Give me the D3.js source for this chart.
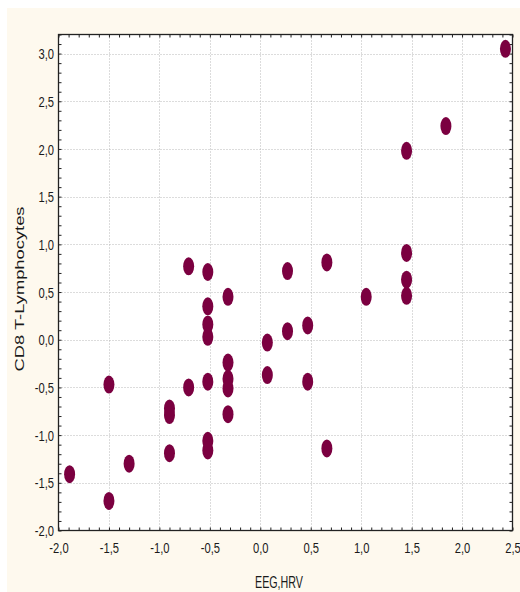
<!DOCTYPE html>
<html>
<head>
<meta charset="utf-8">
<script src="https://cdn.jsdelivr.net/npm/d3@7"></script>
<style>
  html, body { margin: 0; padding: 0; background: #ffffff; }
  svg { display: block; }
  text { font-family: Arial, "Liberation Sans", sans-serif; fill: #1a1a1a; }
</style>
</head>
<body>
<svg id="chart" width="520" height="592"></svg>
<script>
// EEG,HRV composite score (x) and CD8 T-lymphocyte score (y) per subject
const eegHrv = [
  2.43, 1.84, 1.45, 1.45, 1.45, 1.45, 1.05, 0.66, 0.27, 0.47, 0.27, 0.07,
  0.07, 0.47, 0.66, -0.71, -0.52, -0.32, -0.52, -0.52, -0.52, -0.32, -0.32, -0.32,
  -0.52, -0.71, -1.50, -0.90, -0.90, -0.32, -0.52, -0.52, -0.90, -1.30, -1.89, -1.50
];
const cd8 = [
  3.05, 2.24, 1.98, 0.91, 0.63, 0.46, 0.45, 0.81, 0.72, 0.15, 0.09, -0.03,
  -0.37, -0.44, -1.14, 0.77, 0.71, 0.45, 0.35, 0.16, 0.03, -0.24, -0.41, -0.51,
  -0.44, -0.50, -0.47, -0.72, -0.79, -0.78, -1.06, -1.16, -1.19, -1.30, -1.41, -1.69
];
const xTicks = [-2.0, -1.5, -1.0, -0.5, 0.0, 0.5, 1.0, 1.5, 2.0, 2.5];
const yTicks = [-2.0, -1.5, -1.0, -0.5, 0.0, 0.5, 1.0, 1.5, 2.0, 2.5, 3.0];
const xTitle = "EEG,HRV";
const yTitle = "CD8 T-Lymphocytes";

const svg = d3.select("#chart");
const W = 520, H = 592;
const plot = { left: 58.5, right: 512.5, top: 34.5, bottom: 530.5 };

// panel background
svg.append("rect")
  .attr("x", 7).attr("y", 8).attr("width", W - 7).attr("height", H - 8)
  .attr("fill", "#fef9ee");

const x = d3.scaleLinear().domain([-2, 2.5]).range([plot.left, plot.right]);
const y = d3.scaleLinear().domain([-2, 3.2]).range([plot.bottom, plot.top]);

// plotting area
svg.append("rect")
  .attr("x", plot.left).attr("y", plot.top)
  .attr("width", plot.right - plot.left).attr("height", plot.bottom - plot.top)
  .attr("fill", "#ffffff");

// dotted grid at major ticks
const grid = svg.append("g").attr("stroke", "#b8b8b8").attr("stroke-width", 1)
  .attr("stroke-dasharray", "1,2");
grid.selectAll("line.gx").data(xTicks.slice(1, -1)).join("line")
  .attr("x1", d => Math.round(x(d)) + 0.5).attr("x2", d => Math.round(x(d)) + 0.5)
  .attr("y1", plot.top).attr("y2", plot.bottom);
grid.selectAll("line.gy").data(yTicks.slice(1)).join("line")
  .attr("y1", d => Math.round(y(d)) + 0.5).attr("y2", d => Math.round(y(d)) + 0.5)
  .attr("x1", plot.left).attr("x2", plot.right);

// minor ticks every 0.1, pointing inward on all four sides
const minorX = d3.range(-20, 26).map(i => i / 10);
const minorY = d3.range(-20, 33).map(i => i / 10);
function styleAxis(g) {
  g.select(".domain").remove();
  g.selectAll("line").attr("stroke", "#222");
}
svg.append("g").attr("transform", `translate(0,${plot.bottom})`)
  .call(d3.axisBottom(x).tickValues(minorX).tickSize(-3).tickFormat(""))
  .call(styleAxis);
svg.append("g").attr("transform", `translate(0,${plot.top})`)
  .call(d3.axisTop(x).tickValues(minorX).tickSize(-3).tickFormat(""))
  .call(styleAxis);
svg.append("g").attr("transform", `translate(${plot.left},0)`)
  .call(d3.axisLeft(y).tickValues(minorY).tickSize(-3).tickFormat(""))
  .call(styleAxis);
svg.append("g").attr("transform", `translate(${plot.right},0)`)
  .call(d3.axisRight(y).tickValues(minorY).tickSize(-3).tickFormat(""))
  .call(styleAxis);

// frame
svg.append("rect")
  .attr("x", plot.left).attr("y", plot.top)
  .attr("width", plot.right - plot.left).attr("height", plot.bottom - plot.top)
  .attr("fill", "none").attr("stroke", "#222").attr("stroke-width", 1.3);

// tick labels with decimal comma, condensed
const fmt = d => d3.format(".1f")(d).replace(".", ",").replace("−", "-");
const squeeze = 0.8;
const xAxis = svg.append("g").attr("transform", `translate(0,${plot.bottom})`)
  .call(d3.axisBottom(x).tickValues(xTicks).tickSize(0).tickFormat(fmt));
xAxis.select(".domain").remove();
xAxis.selectAll("text")
  .attr("font-size", 14).attr("y", 23).attr("dy", null)
  .attr("transform", `scale(${squeeze},1)`);

const yAxis = svg.append("g").attr("transform", `translate(${plot.left},0)`)
  .call(d3.axisLeft(y).tickValues(yTicks).tickSize(0).tickFormat(fmt));
yAxis.select(".domain").remove();
yAxis.selectAll("text")
  .attr("font-size", 14).attr("x", -4.5 / squeeze).attr("dy", "0.36em")
  .attr("transform", `scale(${squeeze},1)`);

// axis titles
svg.append("text")
  .attr("x", 279).attr("y", 588)
  .attr("text-anchor", "middle").attr("font-size", 16.5)
  .attr("textLength", 48).attr("lengthAdjust", "spacingAndGlyphs")
  .text(xTitle);
svg.append("text")
  .attr("transform", "translate(24,289) rotate(-90)")
  .attr("text-anchor", "middle").attr("font-size", 13)
  .attr("textLength", 165).attr("lengthAdjust", "spacingAndGlyphs")
  .text(yTitle);

// observations
svg.append("g").selectAll("ellipse")
  .data(d3.range(eegHrv.length)).join("ellipse")
  .attr("cx", i => x(eegHrv[i])).attr("cy", i => y(cd8[i]))
  .attr("rx", 5.5).attr("ry", 9)
  .attr("fill", "#7b0040");
</script>
</body>
</html>
